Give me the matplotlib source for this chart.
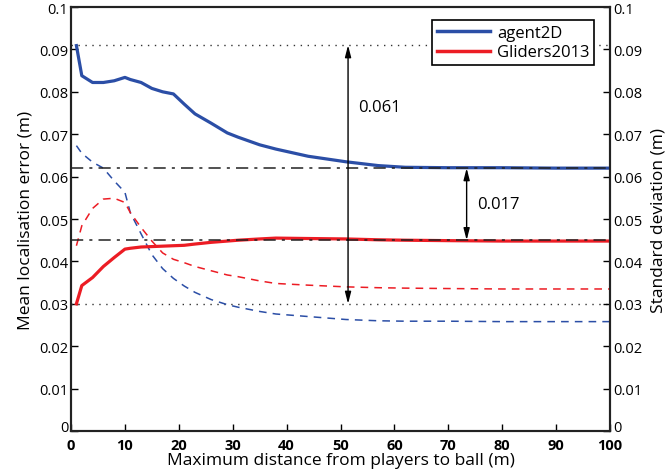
import matplotlib.pyplot as plt
import matplotlib.transforms as mtransforms

plt.rcParams['font.family'] = ['Open Sans', 'DejaVu Sans']

# mean localisation error (solid) and standard deviation (dashed)
dist = [1, 2, 4, 6, 8, 10, 11, 13, 15, 17, 19, 21, 23, 26, 29, 31, 35, 38, 44, 51, 57, 62, 70, 80, 90, 100]
agent_mean = [0.0909, 0.0838, 0.0822, 0.0822, 0.0826, 0.0834, 0.0829, 0.0822, 0.0808, 0.0800, 0.0795,
              0.0771, 0.0748, 0.0726, 0.0703, 0.0693, 0.0675, 0.0665, 0.0648, 0.0635, 0.0626, 0.0622,
              0.0621, 0.0621, 0.0620, 0.0620]
gliders_mean = [0.0300, 0.0343, 0.0362, 0.0388, 0.0409, 0.0429, 0.0431, 0.0434, 0.0435, 0.0436, 0.0437,
                0.0438, 0.0441, 0.0445, 0.0448, 0.0450, 0.0453, 0.0455, 0.0454, 0.0453, 0.0451, 0.0450,
                0.0449, 0.0448, 0.0448, 0.0448]
agent_std = [0.0673, 0.0655, 0.0634, 0.0620, 0.0590, 0.0563, 0.0515, 0.0465, 0.0416, 0.0383, 0.0360,
             0.0342, 0.0327, 0.0310, 0.0298, 0.0292, 0.0282, 0.0276, 0.0270, 0.0263, 0.0260, 0.0259,
             0.0259, 0.0258, 0.0258, 0.0258]
gliders_std = [0.0437, 0.0484, 0.0525, 0.0547, 0.0549, 0.0539, 0.0515, 0.0480, 0.0448, 0.0420, 0.0405,
               0.0397, 0.0388, 0.0378, 0.0368, 0.0364, 0.0354, 0.0348, 0.0344, 0.0340, 0.0338, 0.0337,
               0.0336, 0.0335, 0.0335, 0.0335]

ref_dotted = [0.091, 0.030]
ref_dashdot = [0.062, 0.045]
ticks = [0, 0.01, 0.02, 0.03, 0.04, 0.05, 0.06, 0.07, 0.08, 0.09, 0.1]
tick_labels = ['0', '0.01', '0.02', '0.03', '0.04', '0.05', '0.06', '0.07', '0.08', '0.09', '0.1']

blue = '#2b4ea6'
red = '#ec1c24'

fig = plt.figure(figsize=(6.65, 4.77), dpi=100)
ax = fig.add_axes([0.1068, 0.0943, 0.8105, 0.8889])

for y in ref_dotted:
    ax.plot([0, 100], [y, y], color='#333333', ls=(0, (1, 4)), lw=1.0)
for y in ref_dashdot:
    ax.plot([0, 100], [y, y], color='#222222', ls=(0, (8, 4, 2, 4)), lw=1.1, zorder=3)

ax.plot(dist, agent_std, color=blue, ls=(0, (5, 4)), lw=1.1)
ax.plot(dist, gliders_std, color=red, ls=(0, (5, 4)), lw=1.1)
ax.plot(dist, agent_mean, color=blue, lw=2.3, label='agent2D', zorder=2)
ax.plot(dist, gliders_mean, color=red, lw=2.3, label='Gliders2013', zorder=2)

arrow = dict(arrowstyle='<|-|>,head_length=0.7,head_width=0.18', color='black', lw=1.0,
             shrinkA=0, shrinkB=0)
ax.annotate('', xy=(51.4, ref_dotted[0]), xytext=(51.4, ref_dotted[1]), arrowprops=arrow)
ax.annotate('', xy=(73.4, ref_dashdot[0]), xytext=(73.4, ref_dashdot[1]), arrowprops=arrow)
ax.text(53.2, 0.0764, '0.061', fontsize=12, va='center', ha='left')
ax.text(75.3, 0.0535, '0.017', fontsize=12, va='center', ha='left')

ax.set_xlim(0, 100)
ax.set_ylim(0, 0.1)
ax.set_xticks(range(0, 101, 10))
ax.set_xticklabels([str(v) for v in range(0, 101, 10)], fontweight='bold', fontsize=10.5)
ax.set_yticks(ticks)
ax.set_yticklabels(tick_labels, fontsize=10.5)
ax.tick_params(direction='in', length=5, width=1, pad=2)
ax.tick_params(axis='x', pad=5)
for s in ax.spines.values():
    s.set_linewidth(1.5)
    s.set_color('#222222')
ax.set_xlabel('Maximum distance from players to ball (m)', fontsize=12.5, labelpad=0)
ax.set_ylabel('Mean localisation error (m)', fontsize=12.5, labelpad=4)

ax2 = ax.twinx()
ax2.set_ylim(0, 0.1)
ax2.set_yticks(ticks)
ax2.set_yticklabels(tick_labels, fontsize=10.5)
ax2.tick_params(direction='in', length=5, width=1, pad=2)
ax2.set_ylabel('Standard deviation (m)', fontsize=12.5, labelpad=6)
for s in ax2.spines.values():
    s.set_linewidth(1.5)
    s.set_color('#222222')

# nudge the bottom "0" labels up a little so they clear the "0"/"100" x labels
lift = mtransforms.ScaledTranslation(0, 4 / 72, fig.dpi_scale_trans)
for lab in (ax.get_yticklabels()[0], ax2.get_yticklabels()[0]):
    lab.set_transform(lab.get_transform() + lift)

leg = ax.legend(loc='upper right', bbox_to_anchor=(0.971, 0.969), borderaxespad=0, fontsize=12,
                fancybox=False, framealpha=1, edgecolor='black', handlelength=3.2,
                borderpad=0.3, labelspacing=0.2, handletextpad=0.4)
leg.get_frame().set_linewidth(1.2)
for line in leg.get_lines():
    line.set_linewidth(2.5)

fig.savefig('out.png', dpi=100)
